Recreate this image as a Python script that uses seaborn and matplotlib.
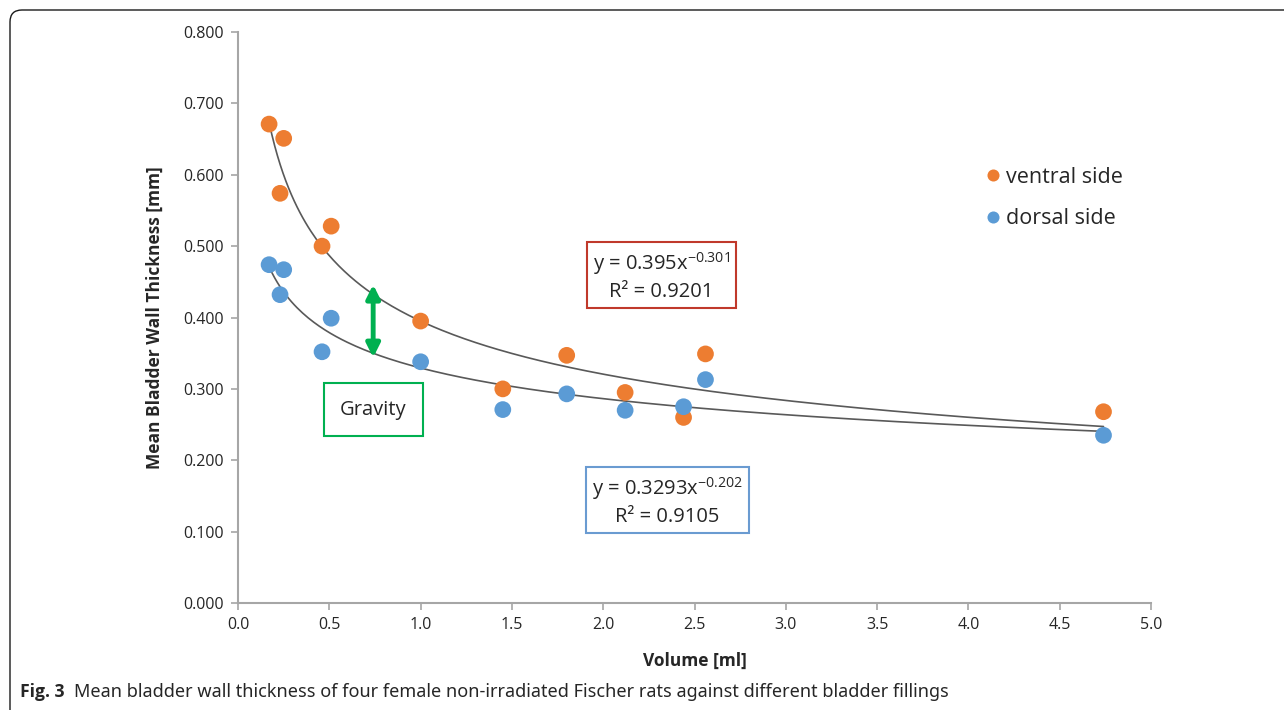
import matplotlib
matplotlib.use("Agg")
import matplotlib.pyplot as plt
from matplotlib.patches import FancyBboxPatch
from matplotlib.transforms import IdentityTransform
import seaborn as sns
import numpy as np
import pandas as pd

# bladder filling volume [ml]
volume = [0.17, 0.25, 0.23, 0.46, 0.51, 1.00, 1.45, 1.80, 2.12, 2.44, 2.56, 4.74]
# mean wall thickness [mm]
ventral = [0.671, 0.651, 0.574, 0.500, 0.528, 0.395, 0.300, 0.347, 0.295, 0.260, 0.349, 0.268]
dorsal = [0.474, 0.467, 0.432, 0.352, 0.399, 0.338, 0.271, 0.293, 0.270, 0.275, 0.313, 0.235]

# power-law trend lines y = a * x^b
ventral_fit = (0.395, -0.301, 0.9201)
dorsal_fit = (0.3293, -0.202, 0.9105)

x_ticks = [0.0, 0.5, 1.0, 1.5, 2.0, 2.5, 3.0, 3.5, 4.0, 4.5, 5.0]
y_ticks = [0.0, 0.1, 0.2, 0.3, 0.4, 0.5, 0.6, 0.7, 0.8]

ORANGE = "#ED7D31"
BLUE = "#5B9BD5"
GREEN = "#00B050"
AXIS_GREY = "#A6A6A6"

sns.set_style("white")
plt.rcParams["font.family"] = ["Open Sans", "DejaVu Sans"]
plt.rcParams["mathtext.default"] = "regular"

df = pd.DataFrame({
    "volume": volume * 2,
    "thickness": ventral + dorsal,
    "side": ["ventral side"] * len(volume) + ["dorsal side"] * len(volume),
})

fig = plt.figure(figsize=(12.84, 7.10), dpi=100)
ax = fig.add_axes([0.1854, 0.1507, 0.7110, 0.8042])

# trend curves
xs = np.linspace(min(volume), max(volume), 300)
curves = pd.DataFrame({
    "volume": np.concatenate([xs, xs]),
    "thickness": np.concatenate([ventral_fit[0] * xs ** ventral_fit[1],
                                 dorsal_fit[0] * xs ** dorsal_fit[1]]),
    "fit": ["ventral"] * len(xs) + ["dorsal"] * len(xs),
})
sns.lineplot(data=curves, x="volume", y="thickness", units="fit", estimator=None,
             color="#595959", linewidth=1.2, ax=ax, zorder=2, legend=False)

sns.scatterplot(data=df, x="volume", y="thickness", hue="side",
                palette={"ventral side": ORANGE, "dorsal side": BLUE},
                s=145, edgecolor="none", ax=ax, zorder=3)

ax.set_xlim(0, 5)
ax.set_ylim(0, 0.8)
ax.set_xticks(x_ticks)
ax.set_yticks(y_ticks)
ax.set_xticklabels([f"{v:.1f}" for v in x_ticks])
ax.set_yticklabels([f"{v:.3f}" for v in y_ticks])
ax.tick_params(axis="both", labelsize=11.5, colors=AXIS_GREY, labelcolor="#262626",
               length=5, width=1.2, direction="out", bottom=True, left=True, pad=5)
for side in ["top", "right"]:
    ax.spines[side].set_visible(False)
for side in ["left", "bottom"]:
    ax.spines[side].set_color(AXIS_GREY)
    ax.spines[side].set_linewidth(1.5)

ax.set_xlabel("Volume [ml]", fontsize=12.5, fontweight="bold", labelpad=14)
ax.set_ylabel("Mean Bladder Wall Thickness [mm]", fontsize=12.5, fontweight="bold", labelpad=14)

leg = ax.legend(frameon=False, loc="center left", bbox_to_anchor=(0.794, 0.709),
                fontsize=15.5, handlelength=1.0, handletextpad=0.1,
                labelspacing=0.95, markerscale=0.72)
leg.set_title(None)

# gravity arrow and box
ax.annotate("", xy=(0.74, 0.340), xytext=(0.74, 0.450),
            arrowprops=dict(arrowstyle="<|-|>", color=GREEN, lw=3.5, mutation_scale=20))
ax.text(0.74, 0.271, "Gravity", fontsize=14.5, ha="center", va="center",
        bbox=dict(boxstyle="square,pad=0.8", fc="white", ec=GREEN, lw=1.5))

ax.text(2.32, 0.458,
        f"y = {ventral_fit[0]}x$^{{{ventral_fit[1]}}}$\nR² = {ventral_fit[2]:.4f}",
        fontsize=14.5, ha="center", va="center", linespacing=1.3,
        bbox=dict(boxstyle="square,pad=0.3", fc="white", ec="#C0392B", lw=1.5))
ax.text(2.35, 0.143,
        f"y = {dorsal_fit[0]}x$^{{{dorsal_fit[1]}}}$\nR² = {dorsal_fit[2]:.4f}",
        fontsize=14.5, ha="center", va="center", linespacing=1.3,
        bbox=dict(boxstyle="square,pad=0.3", fc="white", ec="#6A9BD1", lw=1.5))

# caption
fig.text(20 / 1284, 1 - 692 / 710, "Fig. 3", fontsize=12.6, fontweight="bold",
         ha="left", va="center", family=["Open Sans", "DejaVu Sans"])
fig.text(74 / 1284, 1 - 692 / 710,
         "Mean bladder wall thickness of four female non-irradiated Fischer rats against different bladder fillings",
         fontsize=13.0, ha="left", va="center", family=["Noto Sans", "DejaVu Sans"])

# outer panel frame (open to the right and bottom)
frame = FancyBboxPatch((10, -30), 1320, 730, boxstyle="round,pad=0,rounding_size=12",
                       transform=IdentityTransform(), fill=False, ec="#1a1a1a", lw=1.0)
fig.add_artist(frame)

fig.savefig("out.png", dpi=100)
plt.close(fig)
